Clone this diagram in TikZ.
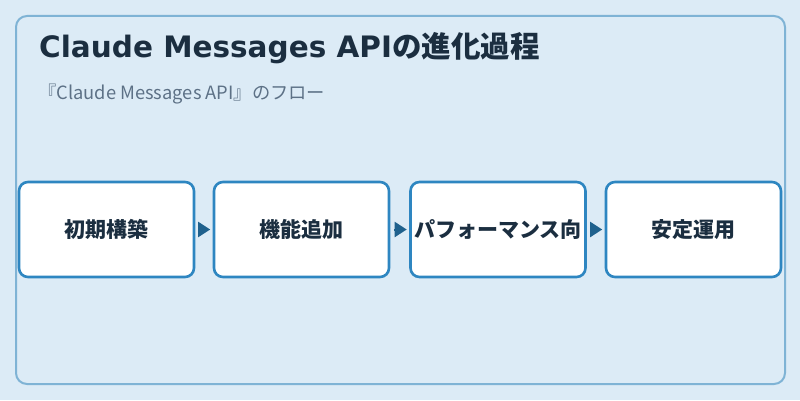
\documentclass[tikz,border=0pt]{standalone}
\usepackage{fontspec}
\setmainfont{Noto Sans CJK JP}
\newfontfamily\latinface{DejaVu Sans}
\usetikzlibrary{arrows.meta}
\definecolor{FlowBack}{HTML}{DCEBF6}
\definecolor{FlowFrame}{HTML}{7FB3D5}
\definecolor{FlowEdge}{HTML}{2E86C1}
\definecolor{FlowInk}{HTML}{1B2E40}
\definecolor{FlowGray}{HTML}{5D7186}
\definecolor{FlowArrow}{HTML}{1F618D}

\begin{document}
\begin{tikzpicture}[
      x=1pt,y=1pt,
      stage/.style={draw=FlowEdge,line width=2.6pt,fill=white,rounded corners=9pt,minimum width=175pt,minimum height=95pt,inner sep=0pt,align=center,font=\fontsize{21}{24}\selectfont\bfseries,text=FlowInk},
      arr/.style={-{Triangle[length=12pt,width=15pt]},line width=2pt,FlowArrow,shorten >=2.5pt,shorten <=4pt}
    ]
      \fill[FlowBack] (0,0) rectangle (800,400);
      \useasboundingbox (0,0) rectangle (800,400);
      \draw[FlowFrame,line width=2pt,rounded corners=11pt] (16,16) rectangle (785,384);
      \node[anchor=base west,inner sep=0pt,font=\fontsize{29.5}{34}\selectfont\bfseries,text=FlowInk] (title) at (39,343) {{\latinface Claude Messages API}の進化過程};
      \node[anchor=base west,inner sep=0pt,font=\fontsize{18.3}{22}\selectfont,text=FlowGray] (sub) at (38,301) {『Claude Messages API』のフロー};
      \node[stage] (init) at (106.5,170.5) {初期構築};
      \node[stage] (feat) at (301.5,170.5) {機能追加};
      \node[stage] (perf) at (498,170.5) {パフォーマンス向};
      \node[stage] (ops) at (693.5,170.5) {安定運用};
      \draw[arr] (init) -- (feat);
      \draw[arr] (feat) -- (perf);
      \draw[arr] (perf) -- (ops);
    \end{tikzpicture}
\end{document}
